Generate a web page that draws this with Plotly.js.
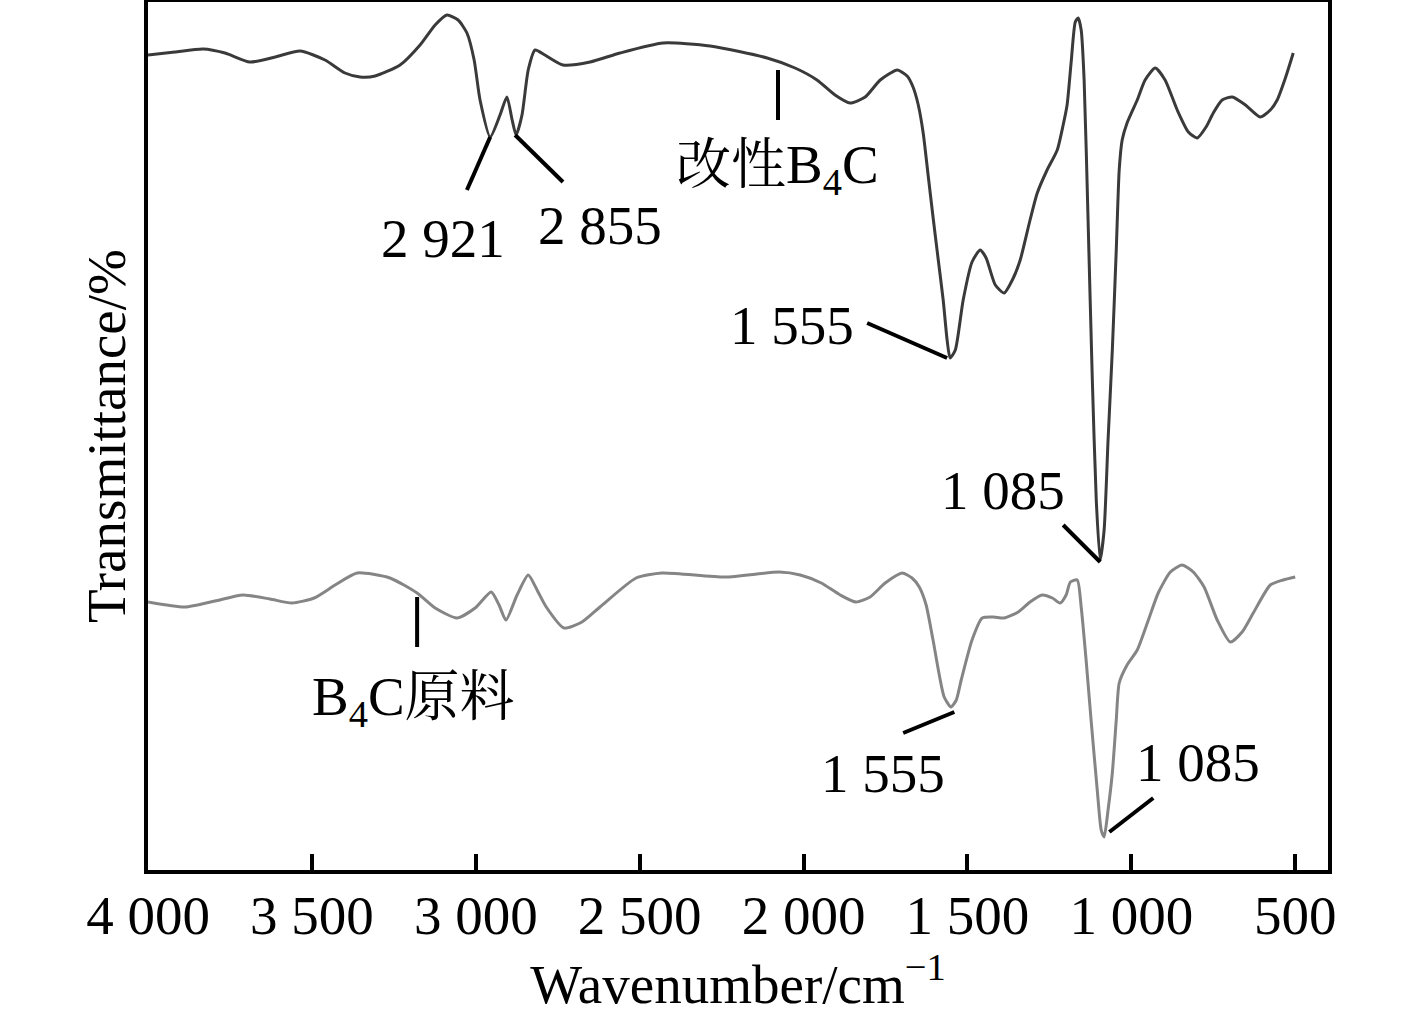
<!DOCTYPE html>
<html>
<head>
<meta charset="utf-8">
<script src="https://cdn.plot.ly/plotly-3.0.1.min.js"></script>
<style>html,body{margin:0;padding:0;background:#fff;}#chart{width:1417px;height:1020px;}</style>
</head>
<body>
<div id="chart"></div>
<script>
// Modified B4C (upper spectrum): wavenumber (cm-1) and transmittance (arbitrary units, offset)
const modifiedWavenumber = [4000,3918,3832,3765,3689,3612,3536,3460,3399,3353,3307,3231,3170,3124,3088,3054,3027,3005,2987,2956,2926,2905,2889,2877,2859,2840,2819,2789,2734,2651,2560,2428,2285,2111,2026,1959,1904,1858,1812,1766,1714,1684,1666,1650,1635,1620,1605,1589,1574,1562,1553,1537,1513,1486,1461,1443,1415,1388,1363,1339,1309,1287,1257,1226,1208,1196,1183,1171,1162,1153,1144,1132,1119,1107,1095,1083,1071,1058,1046,1037,1028,1013,982,958,927,897,860,826,799,772,750,723,692,652,607,576,555,530,506];
const modifiedT = [815,818,821,817,808,813,819,810,797,793,794,805,825,845,855,850,837,810,770,733,755,773,750,735,755,800,820,815,805,808,817,827,824,812,802,790,775,767,773,790,800,794,783,765,737,695,653,610,570,530,512,520,570,608,620,612,585,577,590,610,650,677,700,720,745,765,810,848,852,840,790,650,490,370,310,340,430,520,620,700,730,747,770,790,802,790,760,738,732,743,757,770,773,765,753,760,770,792,817];

// Raw B4C (lower spectrum)
const rawWavenumber = [4000,3887,3796,3710,3628,3561,3493,3429,3362,3262,3179,3124,3057,3002,2953,2929,2908,2874,2840,2813,2785,2731,2676,2621,2511,2432,2239,2074,2010,1946,1888,1840,1797,1751,1699,1669,1647,1626,1605,1571,1550,1534,1519,1486,1455,1421,1388,1345,1309,1272,1241,1217,1199,1186,1165,1153,1138,1122,1104,1092,1083,1071,1058,1046,1037,1013,982,948,918,881,845,811,778,738,698,662,628,576,537,500];
const rawT = [268,263,269,275,271,267,272,285,297,292,277,262,252,262,278,265,250,275,295,280,263,242,248,263,292,297,293,298,295,287,275,268,273,287,297,292,283,265,230,173,163,170,190,230,252,253,252,258,268,275,272,267,275,288,290,263,210,147,80,40,33,60,97,150,187,205,220,250,277,298,305,298,283,250,228,238,257,285,290,293];

// X-axis ticks
const tickValues = [4000,3500,3000,2500,2000,1500,1000,500];
const tickLabels = ['4 000','3 500','3 000','2 500','2 000','1 500','1 000','500'];

// Peak labels: text, label position, leader line from (x0,y0) to (x1,y1)
const labelTexts = ['2 921','2 855','改性B<sub>4</sub>C','1 555','1 085','B<sub>4</sub>C原料','1 555','1 085'];
const labelX = [3100,2621,2081,2035,1391,3191,1757,796];
const labelY = [632,645,702,545,380,170,97,108];
const leaderX0 = [3027,2880,2078,1806,1208,3179,1696,1067];
const leaderY0 = [680,735,800,547,345,273,137,38];
const leaderX1 = [2956,2734,2078,1562,1095,3179,1540,933];
const leaderY1 = [733,688,750,512,308,223,158,72];

const fontFam = '"Liberation Serif", "Times New Roman", "Noto Serif CJK SC", "Noto Sans CJK SC", serif';

const traces = [
  {x: modifiedWavenumber, y: modifiedT, mode: 'lines', type: 'scatter',
   line: {color: '#3a3a3a', width: 3, shape: 'spline', smoothing: 0.6}, hoverinfo: 'skip'},
  {x: rawWavenumber, y: rawT, mode: 'lines', type: 'scatter',
   line: {color: '#858585', width: 3, shape: 'spline', smoothing: 0.6}, hoverinfo: 'skip'}
];

const shapes = leaderX0.map((x0, i) => ({
  type: 'line', xref: 'x', yref: 'y',
  x0: x0, y0: leaderY0[i], x1: leaderX1[i], y1: leaderY1[i],
  line: {color: '#000', width: 4}
}));

const annotations = labelTexts.map((t, i) => ({
  x: labelX[i], y: labelY[i], xref: 'x', yref: 'y', text: t, showarrow: false,
  xanchor: 'center', yanchor: 'middle', font: {family: fontFam, size: 55, color: '#000'}
}));

const layout = {
  width: 1417, height: 1020,
  margin: {l: 148, r: 89, t: 2, b: 150},
  paper_bgcolor: '#fff', plot_bgcolor: '#fff',
  showlegend: false,
  font: {family: fontFam, size: 55, color: '#000'},
  xaxis: {
    range: [4000, 400], showgrid: false, zeroline: false,
    showline: true, mirror: true, linecolor: '#000', linewidth: 4,
    ticks: 'inside', ticklen: 16, tickwidth: 4, tickcolor: '#000',
    tickvals: tickValues, ticktext: tickLabels, ticklabelstandoff: -6,
    tickfont: {family: fontFam, size: 55, color: '#000'},
    title: {text: 'Wavenumber/cm<sup>−1</sup>', font: {family: fontFam, size: 55, color: '#000'}, standoff: 6}
  },
  yaxis: {
    range: [0, 868], showgrid: false, zeroline: false,
    showline: true, mirror: true, linecolor: '#000', linewidth: 4,
    ticks: '', showticklabels: false,
    title: {text: 'Transmittance/%', font: {family: fontFam, size: 55, color: '#000'}, standoff: 2}
  },
  shapes: shapes,
  annotations: annotations
};

Plotly.newPlot('chart', traces, layout, {displayModeBar: false, staticPlot: true});
</script>
</body>
</html>
